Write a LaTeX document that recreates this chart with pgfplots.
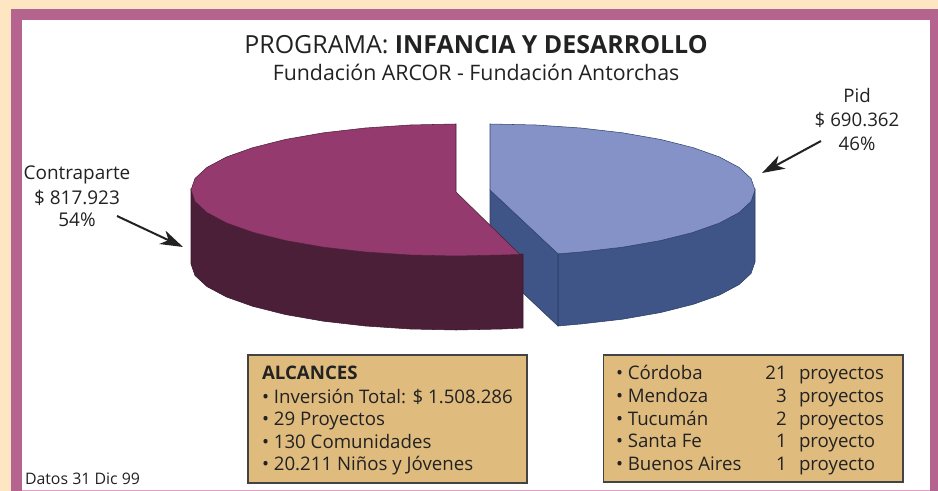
\documentclass[border=0pt]{standalone}
\usepackage{fontspec}
\setmainfont{Open Sans}
\usepackage{pgfplots}
\pgfplotsset{compat=1.18}
\usetikzlibrary{arrows.meta}
\definecolor{cream}{HTML}{FFE6C2}
\definecolor{frame}{HTML}{B56490}
\definecolor{pinkl}{HTML}{DDA0C0}
\definecolor{boxc}{HTML}{DFBB7E}
\definecolor{bluetop}{HTML}{8592C8}
\definecolor{blueside}{HTML}{3F5487}
\definecolor{martop}{HTML}{953A6E}
\definecolor{marside}{HTML}{4C1F38}
\definecolor{ink}{HTML}{222222}
\newcommand{\fs}[1]{\fontsize{#1}{#1}\selectfont}
\begin{document}
\begin{tikzpicture}[x=1pt,y=1pt,
  txt/.style={inner sep=0pt,outer sep=0pt,text=ink,anchor=base west},
  ctr/.style={inner sep=0pt,outer sep=0pt,text=ink,anchor=base}]
\begin{axis}[
  scale only axis,width=703.5pt,height=368.25pt,
  xmin=0,xmax=938,ymin=0,ymax=491,y dir=reverse,
  axis lines=none,clip=true,enlargelimits=false]
% page and frame
\addplot[fill=cream,draw=none] coordinates {(0,0)(938,0)(938,491)(0,491)} --cycle;
\addplot[fill=frame,draw=none] coordinates {(10.5,9.5)(938,9.5)(938,491)(10.5,491)} --cycle;
\addplot[fill=white,draw=none] coordinates {(21.5,20)(930,20)(930,490)(21.5,490)} --cycle;
\addplot[fill=pinkl,draw=none] coordinates {(21.5,489.6)(930,489.6)(930,491)(21.5,491)} --cycle;
% Pid, side
\addplot[fill=blueside,draw=blueside!70!black,line width=0.4pt] coordinates {
 (755,190)(751,201.5)(739,212.6)(719.5,223)(693,232.4)(660.3,240.6)(622.5,247.2)(580.6,252)(558,253.8)
 (558,326)(580.6,324)(622.5,319.2)(660.3,312.6)(693,304.4)(719.5,295)(739,284.6)(751,273.5)(755,262)} --cycle;
% Pid, inner cut
\addplot[fill=blueside,draw=blueside!70!black,line width=0.4pt] coordinates {
 (490,190)(558,253.8)(558,326)(490,262)} --cycle;
% Pid, top
\addplot[fill=bluetop,draw=blueside!80!black,line width=0.4pt] coordinates {
 (490,190)(490,124)(536,125)(580.6,128)(622.5,132.8)(660.3,139.4)(693,147.6)(719.5,157)(739,167.4)(751,178.5)(755,190)
 (751,201.5)(739,212.6)(719.5,223)(693,232.4)(660.3,240.6)(622.5,247.2)(580.6,252)(558,253.8)} --cycle;
% Contraparte, side
\addplot[fill=marside,draw=marside!80!black,line width=0.4pt] coordinates {
 (191,190)(195,201.5)(207,212.6)(226.5,223)(253,232.4)(285.7,240.6)(323.5,247.2)(365.4,252)(410,255)(456,256)(502,255)(523,254)
 (523,328)(502,329)(456,330)(410,329)(365.4,326)(323.5,321.2)(285.7,314.6)(253,306.4)(226.5,297)(207,286.6)(195,275.5)(191,264)} --cycle;
% Contraparte, top
\addplot[fill=martop,draw=marside,line width=0.4pt] coordinates {
 (456,192)(456,124)(410,125)(365.4,128)(323.5,132.8)(285.7,139.4)(253,147.6)(226.5,157)(207,167.4)(195,178.5)(191,190)
 (195,201.5)(207,212.6)(226.5,223)(253,232.4)(285.7,240.6)(323.5,247.2)(365.4,252)(410,255)(456,256)(502,255)(520,254.5)} --cycle;
% boxes
\addplot[fill=boxc,draw=ink!85,line width=1pt] coordinates {(248,355)(527,355)(527,483)(248,483)} --cycle;
\addplot[fill=boxc,draw=ink!85,line width=1pt] coordinates {(603.5,355)(903,355)(903,482)(603.5,482)} --cycle;
% arrows
\draw[-{Stealth[length=17pt,width=11pt,inset=5pt]},line width=1.5pt,ink] (axis cs:821,141) -- (axis cs:762,173);
\draw[-{Stealth[length=17pt,width=11pt,inset=5pt]},line width=1.5pt,ink] (axis cs:117,216) -- (axis cs:183,247);
% titles
\node[ctr,font=\fs{18.7}] at (axis cs:476,54) {PROGRAMA: \textbf{INFANCIA Y DESARROLLO}};
\node[ctr,font=\fs{16}] at (axis cs:476,81) {Fundación ARCOR - Fundación Antorchas};
% slice labels
\node[ctr,font=\fs{14}] at (axis cs:857,103) {Pid};
\node[ctr,font=\fs{14}] at (axis cs:857,127) {\$ 690.362};
\node[ctr,font=\fs{14}] at (axis cs:857,151) {46\%};
\node[ctr,font=\fs{14.2}] at (axis cs:77,180) {Contraparte};
\node[ctr,font=\fs{14.2}] at (axis cs:77,204.5) {\$ 817.923};
\node[ctr,font=\fs{14.2}] at (axis cs:77,227) {54\%};
% Alcances
\node[txt,font=\fs{14}\bfseries] at (axis cs:262,379) {ALCANCES};
\node[txt,font=\fs{14}] at (axis cs:262,403) {• Inversión Total: \$ 1.508.286};
\node[txt,font=\fs{14}] at (axis cs:262,425) {• 29 Proyectos};
\node[txt,font=\fs{14}] at (axis cs:262,448) {• 130 Comunidades};
\node[txt,font=\fs{14}] at (axis cs:262,470) {• 20.211 Niños y Jóvenes};
% Provinces
\node[txt,font=\fs{14}] at (axis cs:616,379) {• Córdoba};
\node[txt,font=\fs{14}] at (axis cs:616,402.5) {• Mendoza};
\node[txt,font=\fs{14}] at (axis cs:616,425) {• Tucumán};
\node[txt,font=\fs{14}] at (axis cs:616,447.5) {• Santa Fe};
\node[txt,font=\fs{14}] at (axis cs:616,470) {• Buenos Aires};
\node[inner sep=0pt,text=ink,anchor=base east,font=\fs{14}] at (axis cs:787,379) {21};
\node[inner sep=0pt,text=ink,anchor=base east,font=\fs{14}] at (axis cs:787,402.5) {3};
\node[inner sep=0pt,text=ink,anchor=base east,font=\fs{14}] at (axis cs:787,425) {2};
\node[inner sep=0pt,text=ink,anchor=base east,font=\fs{14}] at (axis cs:787,447.5) {1};
\node[inner sep=0pt,text=ink,anchor=base east,font=\fs{14}] at (axis cs:787,470) {1};
\node[txt,font=\fs{14}] at (axis cs:799,379) {proyectos};
\node[txt,font=\fs{14}] at (axis cs:799,402.5) {proyectos};
\node[txt,font=\fs{14}] at (axis cs:799,425) {proyectos};
\node[txt,font=\fs{14}] at (axis cs:799,447.5) {proyecto};
\node[txt,font=\fs{14}] at (axis cs:799,470) {proyecto};
\node[txt,font=\fs{11.9}] at (axis cs:25,484) {Datos 31 Dic 99};
\end{axis}
\end{tikzpicture}
\end{document}
